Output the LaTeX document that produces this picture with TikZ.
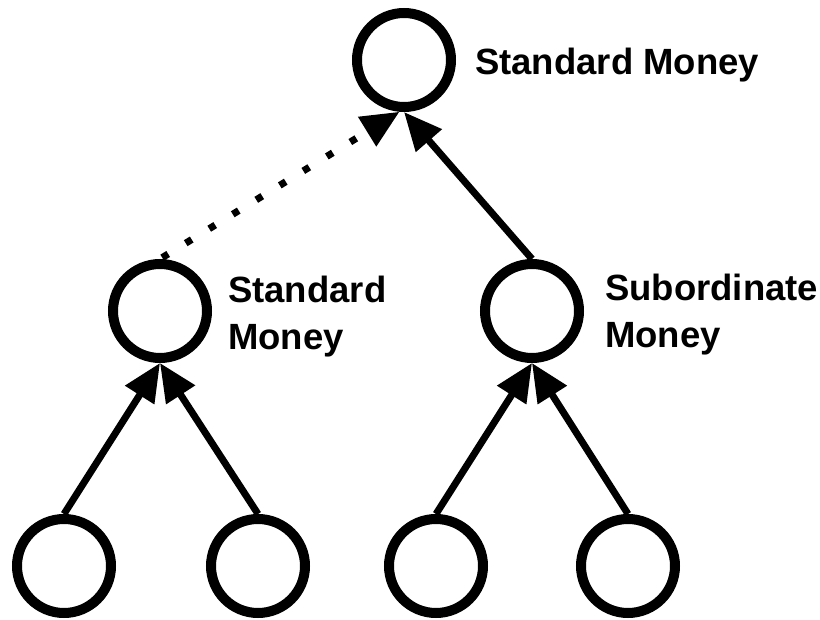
\documentclass[tikz,border=0pt]{standalone}
\usepackage{fontspec}
\setmainfont{Liberation Sans}
\usetikzlibrary{arrows.meta}
\begin{document}
\begin{tikzpicture}[x=1pt,y=-1pt,
  money/.style={circle,draw=black,line width=10pt,minimum size=94pt,inner sep=0pt,fill=white},
  lbl/.style={font=\fontsize{36.5}{47}\selectfont\bfseries,inner sep=0pt,align=left,anchor=base west},
  link/.style={line width=7pt,-{Triangle[length=38pt,width=33pt]}},
  dotlink/.style={line width=7pt,dash pattern=on 7pt off 20.6pt,dash phase=25pt,-{Triangle[length=38pt,width=33pt]}}
]
\useasboundingbox (0,0) rectangle (820,620);
\node[money] (top) at (404,60) {};
\node[money] (ml) at (160,311) {};
\node[money] (mr) at (532,311) {};
\node[money] (a) at (64,566) {};
\node[money] (b) at (258,566) {};
\node[money] (c) at (436,566) {};
\node[money] (d) at (628,566) {};
\node[lbl] (ltop) at (475,75) {Standard Money};
\node[lbl] (lml) at (228,350) {Standard\\Money};
\node[lbl] (lmr) at (605,348) {Subordinate\\Money};
\draw[link] (a.north) -- (ml.south);
\draw[link] (b.north) -- (ml.south);
\draw[link] (c.north) -- (mr.south);
\draw[link] (d.north) -- (mr.south);
\draw[link] (mr.north) -- (top.south);
\draw[dotlink] (ml.north) -- (top.265);
\end{tikzpicture}
\end{document}
